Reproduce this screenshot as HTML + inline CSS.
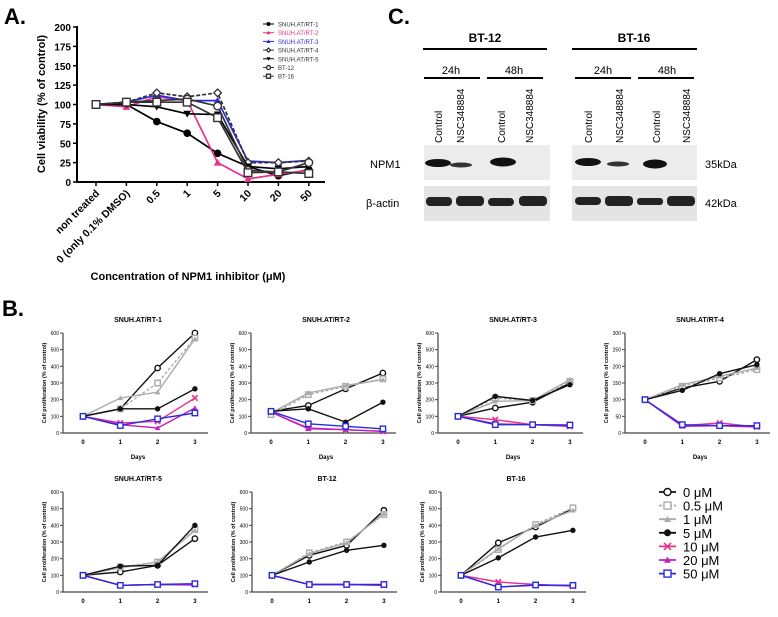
<!DOCTYPE html>
<html><head><meta charset="utf-8"><style>
body{margin:0;background:#fff;width:778px;height:612px;overflow:hidden}
svg{font-family:"Liberation Sans",sans-serif}
</style></head><body>
<svg id="s" width="778" height="612" xmlns="http://www.w3.org/2000/svg">
<text x="4" y="24" font-size="22" font-weight="bold">A.</text>
<text x="388" y="24" font-size="22" font-weight="bold">C.</text>
<text x="2" y="316" font-size="22" font-weight="bold">B.</text>
<g font-size="11">
<text x="485" y="42" text-anchor="middle" font-weight="bold" font-size="12">BT-12</text>
<line x1="423" y1="49" x2="547" y2="49" stroke="#000" stroke-width="2"/>
<text x="634" y="42" text-anchor="middle" font-weight="bold" font-size="12">BT-16</text>
<line x1="572" y1="49" x2="697" y2="49" stroke="#000" stroke-width="2"/>
<text x="451" y="74" text-anchor="middle">24h</text><line x1="424" y1="78" x2="480" y2="78" stroke="#000" stroke-width="2"/>
<text x="514" y="74" text-anchor="middle">48h</text><line x1="487" y1="78" x2="543" y2="78" stroke="#000" stroke-width="2"/>
<text x="603" y="74" text-anchor="middle">24h</text><line x1="575" y1="78" x2="631" y2="78" stroke="#000" stroke-width="2"/>
<text x="667" y="74" text-anchor="middle">48h</text><line x1="638" y1="78" x2="694" y2="78" stroke="#000" stroke-width="2"/>
<g font-size="10">
<text transform="translate(442,143) rotate(-90)">Control</text>
<text transform="translate(464,143) rotate(-90)">NSC348884</text>
<text transform="translate(505,143) rotate(-90)">Control</text>
<text transform="translate(533,143) rotate(-90)">NSC348884</text>
<text transform="translate(592,143) rotate(-90)">Control</text>
<text transform="translate(623,143) rotate(-90)">NSC348884</text>
<text transform="translate(660,143) rotate(-90)">Control</text>
<text transform="translate(690,143) rotate(-90)">NSC348884</text>
</g>
<rect x="424" y="145" width="126" height="35" fill="#ececec"/><rect x="572" y="145" width="125" height="35" fill="#ececec"/>
<rect x="424" y="186" width="126" height="35" fill="#e4e4e4"/><rect x="572" y="186" width="125" height="35" fill="#e4e4e4"/>
<ellipse cx="438" cy="163" rx="13" ry="4" fill="#111"/><ellipse cx="461" cy="165" rx="11" ry="2.5" fill="#333"/>
<ellipse cx="503" cy="162" rx="13" ry="4.5" fill="#111"/>
<ellipse cx="588" cy="162" rx="13" ry="4" fill="#111"/><ellipse cx="618" cy="164" rx="11" ry="2.5" fill="#333"/>
<ellipse cx="655" cy="164" rx="12" ry="4.5" fill="#111"/>
<rect x="426" y="197" width="26" height="9" rx="4" fill="#222"/><rect x="456" y="196" width="28" height="10" rx="4" fill="#222"/>
<rect x="488" y="198" width="26" height="8" rx="4" fill="#222"/><rect x="519" y="196" width="28" height="10" rx="4" fill="#222"/>
<rect x="575" y="197" width="26" height="8" rx="4" fill="#222"/><rect x="605" y="196" width="28" height="10" rx="4" fill="#222"/>
<rect x="637" y="198" width="26" height="7" rx="3" fill="#222"/><rect x="667" y="196" width="28" height="10" rx="4" fill="#222"/>
<text x="370" y="168">NPM1</text><text x="366" y="207">β-actin</text>
<text x="705" y="168">35kDa</text><text x="705" y="207">42kDa</text>
</g>
<g id="ga"></g><g id="gb"></g>
</svg>
<script>
const NS='http://www.w3.org/2000/svg';
function mk(p,t,a){const e=document.createElementNS(NS,t);for(const k in a)e.setAttribute(k,a[k]);p.appendChild(e);return e;}
// ---- Panel A data ----
const aCats=['non treated','0 (only 0.1% DMSO)','0.5','1','5','10','20','50'];
const aNames=['SNUH.AT/RT-1','SNUH.AT/RT-2','SNUH.AT/RT-3','SNUH.AT/RT-4','SNUH.AT/RT-5','BT-12','BT-16'];
const aRT1=[100,100,78,63,37,20,8,16];
const aRT2=[100,97,110,105,25,4,10,15];
const aRT3=[100,103,112,105,105,27,25,28];
const aRT4=[100,103,115,110,115,25,25,27];
const aRT5=[100,100,97,88,87,20,17,20];
const aBT12=[100,103,105,107,98,15,13,25];
const aBT16=[100,103,103,103,83,12,13,11];
const aTicks=[0,25,50,75,100,125,150,175,200];
const aSeries=[aRT1,aRT2,aRT3,aRT4,aRT5,aBT12,aBT16];
const aCol=['#000','#e8318a','#2a2ae0','#333','#000','#333','#333'];
const aMark=['circle','tri','tri','diamond','dtri','circleo','square'];
// ---- Panel B data ----
const bDays=[0,1,2,3];
const bConc=['0 μM','0.5 μM','1 μM','5 μM','10 μM','20 μM','50 μM'];
const bTitles=['SNUH.AT/RT-1','SNUH.AT/RT-2','SNUH.AT/RT-3','SNUH.AT/RT-4','SNUH.AT/RT-5','BT-12','BT-16'];
const bMax=[600,600,600,300,600,600,600];
const b1=[[100,145,390,600],[100,145,300,570],[100,210,245,565],[100,145,145,265],[100,60,70,210],[100,50,30,150],[100,45,85,120]];
const b2=[[130,165,265,360],[110,230,280,325],[120,240,285,320],[130,145,65,185],[125,30,20,10],[125,25,20,10],[130,55,40,25]];
const b3=[[100,150,185,300],[100,210,195,310],[100,190,195,320],[100,220,195,290],[100,80,50,40],[100,55,50,40],[100,50,50,48]];
const b4=[[100,135,155,220],[100,140,165,190],[100,145,170,195],[100,128,178,205],[100,22,30,18],[100,20,22,18],[100,25,22,22]];
const b5=[[100,120,160,320],[100,150,180,375],[100,145,180,370],[100,155,160,400],[100,40,45,45],[100,40,45,42],[100,40,45,50]];
const b6=[[100,220,280,490],[100,235,300,465],[100,230,295,470],[100,180,250,280],[100,45,45,40],[100,45,45,40],[100,45,45,45]];
const b7=[[100,295,390,500],[100,255,405,505],[100,260,400,490],[100,205,330,370],[100,60,45,35],[100,30,40,38],[100,30,42,40]];
const bData=[b1,b2,b3,b4,b5,b6,b7];
const bCol=['#111','#aaa','#aaa','#111','#e8318a','#c020c0','#2a2ae0'];
const bMark=['circleo','square','tri','circle','x','tri','square'];
const bDash=['','3,2','','','','',''];

function marker(g,m,x,y,c,r){
  if(m==='circle')return mk(g,'circle',{cx:x,cy:y,r:r,fill:c});
  if(m==='circleo')return mk(g,'circle',{cx:x,cy:y,r:r,fill:'#fff',stroke:c,'stroke-width':1.4});
  if(m==='square')return mk(g,'rect',{x:x-r,y:y-r,width:2*r,height:2*r,fill:'#fff',stroke:c,'stroke-width':1.4});
  if(m==='tri')return mk(g,'polygon',{points:`${x},${y-r} ${x-r},${y+r*0.8} ${x+r},${y+r*0.8}`,fill:c});
  if(m==='dtri')return mk(g,'polygon',{points:`${x},${y+r} ${x-r},${y-r*0.8} ${x+r},${y-r*0.8}`,fill:c});
  if(m==='diamond')return mk(g,'polygon',{points:`${x},${y-r} ${x+r},${y} ${x},${y+r} ${x-r},${y}`,fill:'#fff',stroke:c,'stroke-width':1.3});
  if(m==='x'){return mk(g,'path',{d:`M${x-r} ${y-r}L${x+r} ${y+r}M${x+r} ${y-r}L${x-r} ${y+r}`,stroke:c,'stroke-width':1.6});}
}
// Panel A
const ga=document.getElementById('ga');

const ax=i=>96+i*30.4, ay=v=>182-v*155/200;
mk(ga,'line',{x1:77,y1:26,x2:77,y2:183,stroke:'#000','stroke-width':2});
mk(ga,'line',{x1:77,y1:182,x2:325,y2:182,stroke:'#000','stroke-width':2});
aTicks.forEach(t=>{mk(ga,'line',{x1:73,y1:ay(t),x2:77,y2:ay(t),stroke:'#000','stroke-width':1.5});
 const tx=mk(ga,'text',{x:71,y:ay(t)+4,'font-size':10,'font-weight':'bold','text-anchor':'end'});tx.textContent=t;
 
 });
aCats.forEach((c,i)=>{mk(ga,'line',{x1:ax(i),y1:182,x2:ax(i),y2:186,stroke:'#000','stroke-width':1.5});
 const tx=mk(ga,'text',{transform:`translate(${ax(i)+4},${194}) rotate(-45)`,'font-size':10.5,'font-weight':'bold','text-anchor':'end'});tx.textContent=c;
 
 });
let yt=mk(ga,'text',{transform:'translate(45,104) rotate(-90)','font-size':11,'font-weight':'bold','text-anchor':'middle'});yt.textContent='Cell viability (% of control)';


let xt=mk(ga,'text',{x:188,y:280,'font-size':11,'font-weight':'bold','text-anchor':'middle'});xt.textContent='Concentration of NPM1 inhibitor (μM)';


aSeries.forEach((s,k)=>{const g=mk(ga,'g',{});
 
 
 mk(g,'polyline',{points:s.map((v,i)=>ax(i)+','+ay(v)).join(' '),fill:'none',stroke:aCol[k],'stroke-width':1.7,'stroke-dasharray':k===3?'4,2':''});
 s.forEach((v,i)=>marker(g,aMark[k],ax(i),ay(v),aCol[k],3.8));
 const ly=24+k*8.7;
 const lg=mk(ga,'g',{});
 
 
 mk(lg,'line',{x1:263,y1:ly,x2:274,y2:ly,stroke:aCol[k]});marker(lg,aMark[k],268.5,ly,aCol[k],2);
 const t=mk(lg,'text',{x:278,y:ly+2.5,'font-size':6,fill:k===1?'#e8318a':k===2?'#2a2ae0':'#333'});t.textContent=aNames[k];});
// Panel B
const gb=document.getElementById('gb');

const origins=[[83,433],[271,433],[458,433],[645,433],[83,592],[272,592],[461,592]];
bData.forEach((ser,p)=>{
 const [ox,oy]=origins[p];const g=mk(gb,'g',{});
 
 
 const bx=d=>ox+d*37.3, by=v=>oy-v*100/bMax[p];
 mk(g,'line',{x1:ox-20,y1:by(bMax[p]),x2:ox-20,y2:oy,stroke:'#444','stroke-width':1.2});
 mk(g,'line',{x1:ox-20,y1:oy,x2:ox+125,y2:oy,stroke:'#444','stroke-width':1.2});
 for(let t=0;t<=6;t++){const v=bMax[p]*t/6,y=by(v);mk(g,'line',{x1:ox-23,y1:y,x2:ox-20,y2:y,stroke:'#444'});
  const tx=mk(g,'text',{x:ox-24,y:y+2,'font-size':5,'text-anchor':'end'});tx.textContent=Math.round(v);}
 bDays.forEach(d=>{const tx=mk(g,'text',{x:bx(d),y:oy+11,'font-size':6,'font-weight':'bold','text-anchor':'middle'});tx.textContent=d;});
 let t=mk(g,'text',{x:ox+55,y:oy+26,'font-size':6,'font-weight':'bold','text-anchor':'middle'});t.textContent='Days';
 t=mk(g,'text',{x:ox+55,y:oy-111,'font-size':7,'font-weight':'bold','text-anchor':'middle'});t.textContent=bTitles[p];
 t=mk(g,'text',{transform:`translate(${ox-37},${oy-50}) rotate(-90)`,'font-size':5.5,'font-weight':'bold','text-anchor':'middle'});t.textContent='Cell proliferation (% of control)';
 ser.forEach((s,k)=>{mk(g,'polyline',{points:s.map((v,i)=>bx(bDays[i])+','+by(v)).join(' '),fill:'none',stroke:bCol[k],'stroke-width':1.4,'stroke-dasharray':bDash[k]});
  s.forEach((v,i)=>marker(g,bMark[k],bx(bDays[i]),by(v),bCol[k],2.7));});
});
const lg=mk(gb,'g',{});


bConc.forEach((c,k)=>{const y=492+k*13.6;const e=mk(lg,'g',{});
 
 
 mk(e,'line',{x1:659,y1:y,x2:676,y2:y,stroke:bCol[k],'stroke-width':1.8,'stroke-dasharray':bDash[k]});
 marker(e,bMark[k],667.5,y,bCol[k],3.5);
 const t=mk(e,'text',{x:683,y:y+5,'font-size':13});t.textContent=c;});
</script>
</body></html>
